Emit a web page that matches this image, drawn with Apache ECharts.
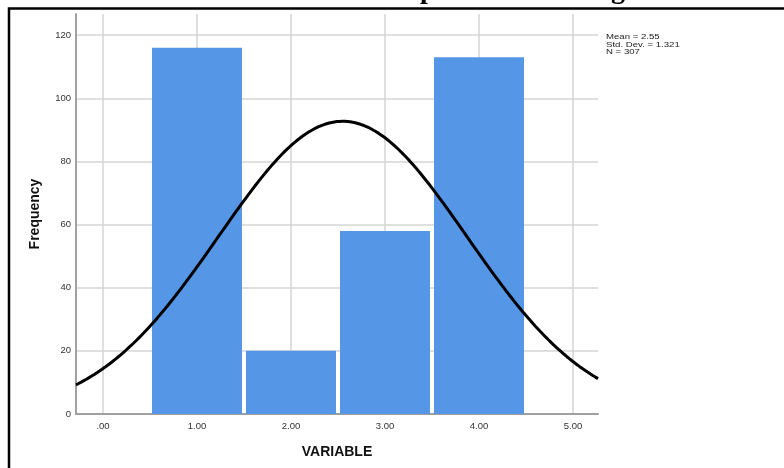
<!DOCTYPE html>
<html>
<head>
<meta charset="utf-8">
<script src="https://cdn.jsdelivr.net/npm/echarts@6/dist/echarts.min.js"></script>
<style>
  html, body { margin: 0; padding: 0; background: #fff; }
  #chart { width: 784px; height: 468px; }
</style>
</head>
<body>
<div id="chart"></div>
<script>
// Histogram bins (bin centres) and their frequencies
const binCenters = [1, 2, 3, 4];
const frequencies = [116, 20, 58, 113];
const binWidth = 1;

// Summary statistics printed beside the plot
const statMean = 2.55;
const statStdDev = 1.321;
const statN = 307;

// Axis ranges and tick values
const xRange = [-0.287, 5.266];
const yRange = [0, 126.7];
const yTickStep = 20;

const barColor = '#5596e6';
const fontMain = '"Liberation Sans", Arial, sans-serif';

// Fitted normal curve scaled to counts: N * binWidth * pdf(x)
const curve = [];
for (let i = 0; i <= 200; i++) {
  const x = xRange[0] + (xRange[1] - xRange[0]) * i / 200;
  const z = (x - statMean) / statStdDev;
  const y = statN * binWidth * Math.exp(-0.5 * z * z) / (statStdDev * Math.sqrt(2 * Math.PI));
  curve.push([x, y]);
}

const chart = echarts.init(document.getElementById('chart'), null, { renderer: 'canvas' });

chart.setOption({
  animation: false,
  backgroundColor: '#ffffff',
  grid: { left: 76, right: 186, top: 14, bottom: 54, containLabel: false },
  xAxis: {
    type: 'value',
    min: xRange[0],
    max: xRange[1],
    splitNumber: 5,
    minInterval: 1,
    maxInterval: 1,
    name: 'VARIABLE',
    nameLocation: 'middle',
    nameGap: 31,
    nameTextStyle: { fontFamily: fontMain, fontSize: 14, fontWeight: 'bold', color: '#111' },
    axisLine: { show: true, onZero: false, lineStyle: { color: '#a0a0a0', width: 2 } },
    axisTick: { show: false },
    axisLabel: {
      showMinLabel: false,
      showMaxLabel: false,
      margin: 7,
      fontFamily: fontMain,
      fontSize: 9.5,
      color: '#333',
      formatter: v => (v === 0 ? '.00' : v.toFixed(2))
    },
    splitLine: { show: true, showMinLine: false, showMaxLine: false, lineStyle: { color: '#d4d4d4', width: 1.5 } }
  },
  yAxis: {
    type: 'value',
    min: yRange[0],
    max: yRange[1],
    interval: yTickStep,
    name: 'Frequency',
    nameLocation: 'middle',
    nameGap: 34,
    nameTextStyle: { fontFamily: fontMain, fontSize: 14, fontWeight: 'bold', color: '#111' },
    axisLine: { show: true, onZero: false, lineStyle: { color: '#a0a0a0', width: 2 } },
    axisTick: { show: false },
    axisLabel: {
      showMaxLabel: false,
      margin: 5,
      fontFamily: fontMain,
      fontSize: 9.5,
      color: '#333'
    },
    splitLine: { show: true, showMinLine: false, showMaxLine: false, lineStyle: { color: '#d4d4d4', width: 1.5 } }
  },
  series: [
    {
      type: 'custom',
      z: 2,
      data: binCenters.map((c, i) => [c, frequencies[i]]),
      encode: { x: 0, y: 1 },
      renderItem: (params, api) => {
        const c = api.value(0);
        const f = api.value(1);
        const topLeft = api.coord([c - binWidth / 2, f]);
        const bottomRight = api.coord([c + binWidth / 2, 0]);
        const gap = 2;
        return {
          type: 'rect',
          shape: {
            x: topLeft[0] + gap,
            y: topLeft[1],
            width: bottomRight[0] - topLeft[0] - 2 * gap,
            height: bottomRight[1] - topLeft[1]
          },
          style: { fill: barColor }
        };
      }
    },
    {
      type: 'line',
      z: 3,
      data: curve,
      showSymbol: false,
      smooth: false,
      clip: true,
      lineStyle: { color: '#000', width: 3 }
    }
  ],
  graphic: [
    // outer frame of the output panel
    {
      type: 'rect',
      z: 10,
      shape: { x: 9, y: 8.5, width: 800, height: 500 },
      style: { fill: 'none', stroke: '#000', lineWidth: 2.5 }
    },
    // descenders of the heading above the frame
    {
      type: 'text',
      z: 9,
      x: 420,
      y: 5,
      style: { text: 'p', font: 'bold 28px "Liberation Serif", "Times New Roman", serif', fill: '#000', verticalAlign: 'bottom' }
    },
    {
      type: 'text',
      z: 9,
      x: 611,
      y: 5,
      style: { text: 'g', font: 'bold 28px "Liberation Serif", "Times New Roman", serif', fill: '#000', verticalAlign: 'bottom' }
    },
    // summary statistics
    {
      type: 'text',
      z: 9,
      x: 606,
      y: 33.5,
      scaleX: 1.25,
      style: {
        text: 'Mean = ' + statMean.toFixed(2) + '\nStd. Dev. = ' + statStdDev.toFixed(3) + '\nN = ' + statN,
        font: '7.7px "Liberation Sans", Arial, sans-serif',
        lineHeight: 7.3,
        fill: '#222'
      }
    }
  ]
});
</script>
</body>
</html>
